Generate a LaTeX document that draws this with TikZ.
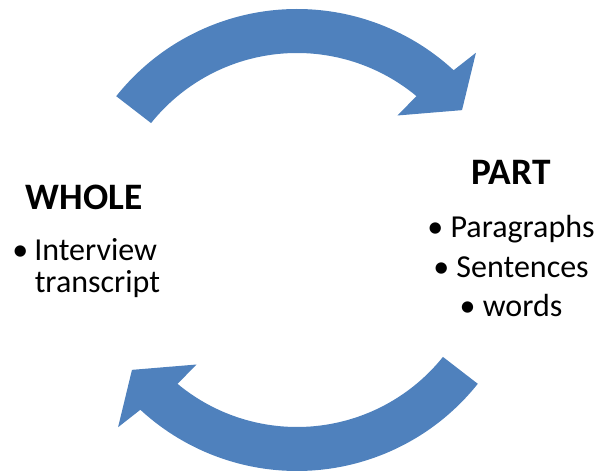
\documentclass[tikz,border=0pt]{standalone}
\usepackage{fontspec}
\setmainfont{Carlito}
\usetikzlibrary{positioning}
\definecolor{cycblue}{RGB}{79,129,189}
\tikzstyle{cyclearrow} = [fill=cycblue, draw=none]
\tikzstyle{heading} = [font=\fontsize{28}{34}\selectfont\bfseries, inner sep=0pt]
\tikzstyle{item} = [font=\fontsize{24}{29}\selectfont, inner sep=0pt]

\begin{document}
\begin{tikzpicture}[x=0.75pt, y=0.75pt]
\useasboundingbox (0,0) rectangle (599,474);

% Two circular arrows
\foreach \rot in {0,180} {
  \begin{scope}[shift={(297,234)}, rotate=\rot]
    \fill[cyclearrow] (141.5:231) arc[start angle=141.5, end angle=47.3, radius=173.25pt]
      -- (46.3:259) -- (38.2:210) -- (51.1:160) -- (50.3:187)
      arc[start angle=50.3, end angle=141.3, radius=140.25pt] -- cycle;
  \end{scope}
}

% Whole
\node[heading, anchor=base] (whole) at (84,264) {WHOLE};
\node[item, anchor=base west] (interview) at (12,213) {\makebox[16.5pt][l]{\textbullet}Interview};
\node[item, anchor=base west] (transcript) at (34.5,181) {transcript};

% Part
\node[heading, anchor=base] (part) at (511,289) {PART};
\foreach \w/\yy [count=\i] in {Paragraphs/236, Sentences/196, words/157}
  \node[item, anchor=base] (p\i) at (511,\yy) {\textbullet\ \w};
\end{tikzpicture}
\end{document}
